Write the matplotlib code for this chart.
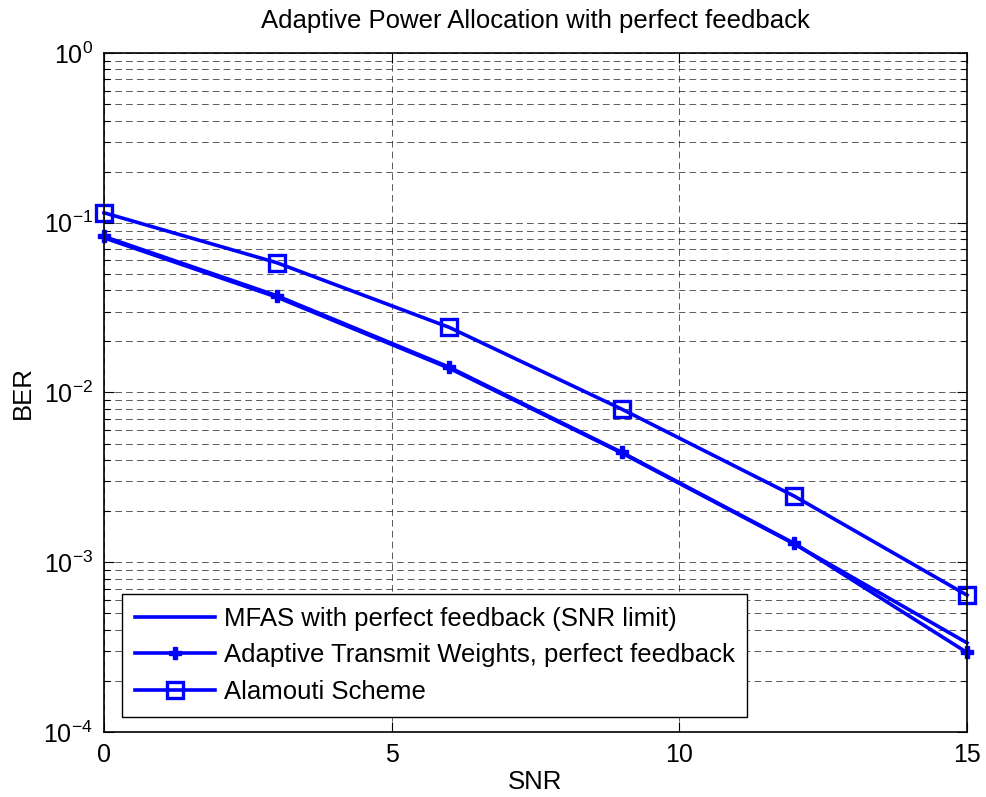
import matplotlib
matplotlib.use("Agg")
import matplotlib.pyplot as plt
from matplotlib.ticker import LogLocator, FixedLocator

plt.rcParams['font.family'] = ['Liberation Sans', 'DejaVu Sans']
plt.rcParams['mathtext.fontset'] = 'custom'
plt.rcParams['mathtext.rm'] = 'Liberation Sans'
plt.rcParams['mathtext.default'] = 'regular'

snr = [0, 3, 6, 9, 12, 15]
ber_mfas = [0.0815, 0.0365, 0.0139, 0.0044, 0.00128, 0.000335]
ber_adaptive = [0.083, 0.0372, 0.0141, 0.00444, 0.00129, 0.000294]
ber_alamouti = [0.1145, 0.0582, 0.0242, 0.00798, 0.00245, 0.00064]

labels = ['MFAS with perfect feedback (SNR limit)',
          'Adaptive Transmit Weights, perfect feedback',
          'Alamouti Scheme']

FS = 18.5

fig = plt.figure(figsize=(9.86, 7.97), dpi=100)
ax = fig.add_axes([104/986, 1-732/797, (967-104)/986, (732-53)/797])

blue = '#0000ff'
ax.semilogy(snr, ber_mfas, color=blue, lw=2.6, label=labels[0], clip_on=False)
ax.semilogy(snr, ber_adaptive, color=blue, lw=2.6, marker='P', ms=9,
            mec=blue, mfc=blue, label=labels[1], clip_on=False)
ax.semilogy(snr, ber_alamouti, color=blue, lw=2.6, marker='s', ms=12,
            mfc='none', mec=blue, mew=2.4, label=labels[2], clip_on=False)

ax.set_xlim(0, 15)
ax.set_ylim(1e-4, 1e0)
ax.xaxis.set_major_locator(FixedLocator([0, 5, 10, 15]))
ax.yaxis.set_major_locator(LogLocator(base=10, numticks=10))
ax.yaxis.set_minor_locator(LogLocator(base=10, subs=range(2, 10), numticks=20))

grid_style = dict(color='k', lw=0.6, linestyle=(0, (8, 5)), alpha=0.75)
ax.grid(True, which='major', axis='both', **grid_style)
ax.grid(True, which='minor', axis='y', **grid_style)

ax.tick_params(which='both', direction='in', top=True, right=True,
               labelsize=FS - 0.5, width=0.8)
ax.tick_params(which='major', length=7, pad=8)
ax.tick_params(which='minor', length=4)
for s in ax.spines.values():
    s.set_linewidth(1.2)

ax.set_title('Adaptive Power Allocation with perfect feedback', fontsize=FS, pad=18)
ax.set_xlabel('SNR', fontsize=FS, labelpad=2)
ax.set_ylabel('BER', fontsize=FS, labelpad=6)

leg = ax.legend(loc='lower left', bbox_to_anchor=(0.021, 0.022), borderaxespad=0,
                fontsize=FS, fancybox=False, edgecolor='k', framealpha=1,
                handlelength=3.1, handletextpad=0.35, labelspacing=0.5,
                borderpad=0.5)
leg.get_frame().set_linewidth(1.0)

fig.savefig('out.png', dpi=100)
